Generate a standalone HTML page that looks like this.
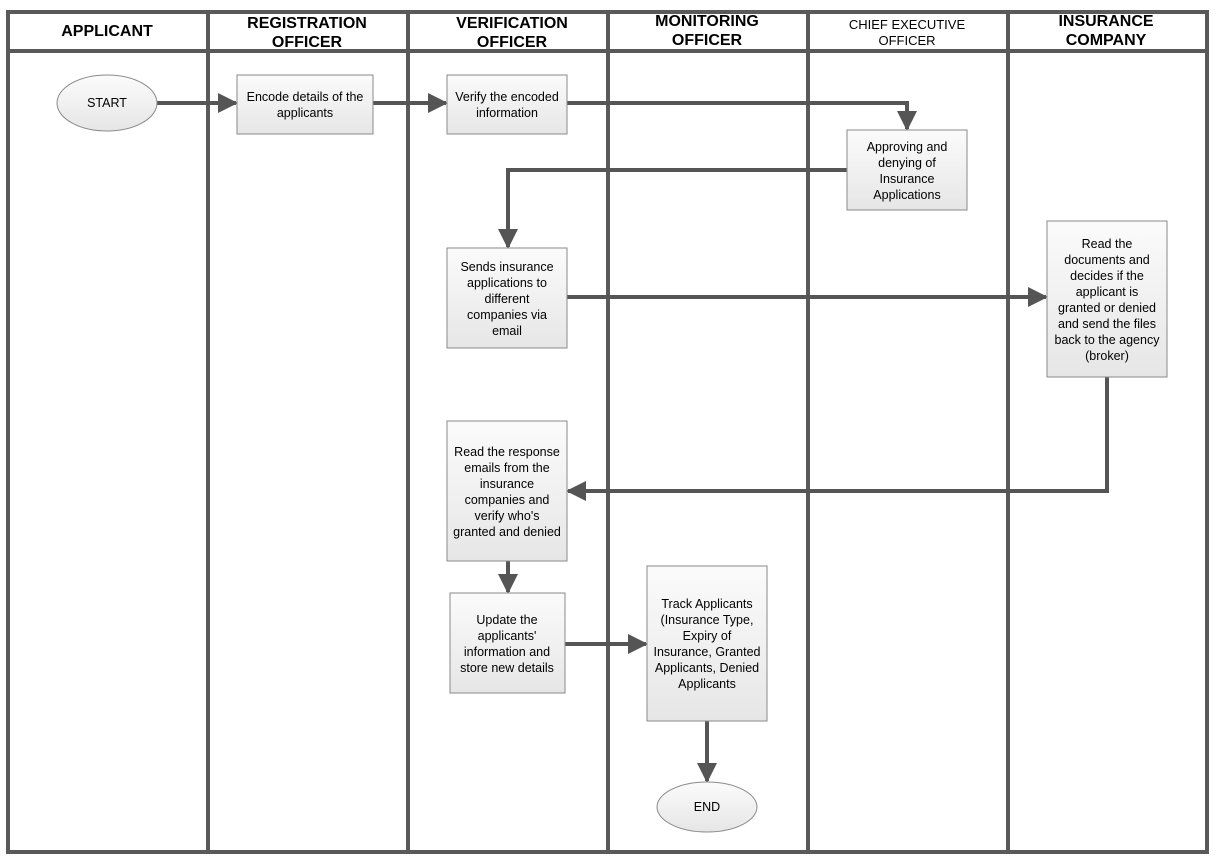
<!DOCTYPE html>
<html><head><meta charset="utf-8"><style>
html,body{margin:0;padding:0;background:#fff;}
svg{display:block;font-family:"Liberation Sans",Arial,sans-serif;}
</style></head><body>
<svg width="1221" height="865" viewBox="0 0 1221 865" xmlns="http://www.w3.org/2000/svg">
<defs>
<linearGradient id="g" x1="0" y1="0" x2="0" y2="1"><stop offset="0" stop-color="#fbfbfb"/><stop offset="1" stop-color="#e6e6e6"/></linearGradient>
<marker id="a" markerWidth="5" markerHeight="5" refX="4.5" refY="2.5" orient="auto" markerUnits="strokeWidth"><path d="M0,0 L5,2.5 L0,5 z" fill="#555"/></marker>
</defs>
<rect width="1221" height="865" fill="#fff"/>
<g stroke="#595959" stroke-width="4" fill="none">
<rect x="8" y="12" width="1199" height="840"/>
<line x1="8" y1="51" x2="1207" y2="51"/>
<line x1="208" y1="12" x2="208" y2="852"/>
<line x1="408" y1="12" x2="408" y2="852"/>
<line x1="608" y1="12" x2="608" y2="852"/>
<line x1="808" y1="12" x2="808" y2="852"/>
<line x1="1008" y1="12" x2="1008" y2="852"/>
</g>
<g font-weight="bold" font-size="16" text-anchor="middle" fill="#000">
<text x="107" y="36">APPLICANT</text>
<text x="307" y="28">REGISTRATION</text><text x="307" y="47">OFFICER</text>
<text x="512" y="28">VERIFICATION</text><text x="512" y="47">OFFICER</text>
<text x="707" y="26">MONITORING</text><text x="707" y="45">OFFICER</text>
<text x="1106" y="26">INSURANCE</text><text x="1106" y="45">COMPANY</text>
</g>
<g font-size="13" text-anchor="middle" fill="#000"><text x="907" y="29">CHIEF EXECUTIVE</text><text x="907" y="45">OFFICER</text></g>
<g stroke="#555" stroke-width="4" fill="none" marker-end="url(#a)">
<path d="M157,103 H236"/>
<path d="M373,103 H446"/>
<path d="M567,103 H907 V129"/>
<path d="M847,170 H508 V247"/>
<path d="M567,297 H1046"/>
<path d="M1107,377 V491 H568"/>
<path d="M508,561 V592"/>
<path d="M565,644 H646"/>
<path d="M707,721 V781"/>
</g>
<g fill="url(#g)" stroke="#8a8a8a" stroke-width="1">
<ellipse cx="107" cy="103" rx="50" ry="28"/>
<rect x="237" y="75" width="136" height="59"/>
<rect x="447" y="75" width="120" height="59"/>
<rect x="847" y="130" width="120" height="80"/>
<rect x="447" y="248" width="120" height="100"/>
<rect x="1047" y="221" width="120" height="156"/>
<rect x="447" y="421" width="120" height="140"/>
<rect x="450" y="593" width="115" height="100"/>
<rect x="647" y="566" width="120" height="155"/>
<ellipse cx="707" cy="807" rx="50" ry="25"/>
</g>
<g font-size="12.5" text-anchor="middle" fill="#000">
<text x="107" y="107">START</text>
<text x="305" y="101">Encode details of the</text><text x="305" y="117">applicants</text>
<text x="507" y="101">Verify the encoded</text><text x="507" y="117">information</text>
<text x="907" y="151">Approving and</text><text x="907" y="167">denying of</text><text x="907" y="183">Insurance</text><text x="907" y="199">Applications</text>
<text x="507" y="271">Sends insurance</text><text x="507" y="287">applications to</text><text x="507" y="303">different</text><text x="507" y="319">companies via</text><text x="507" y="335">email</text>
<text x="1107" y="248">Read the</text><text x="1107" y="264">documents and</text><text x="1107" y="280">decides if the</text><text x="1107" y="296">applicant is</text><text x="1107" y="312">granted or denied</text><text x="1107" y="328">and send the files</text><text x="1107" y="344">back to the agency</text><text x="1107" y="360">(broker)</text>
<text x="507" y="456">Read the response</text><text x="507" y="472">emails from the</text><text x="507" y="488">insurance</text><text x="507" y="504">companies and</text><text x="507" y="520">verify who's</text><text x="507" y="536">granted and denied</text>
<text x="507" y="624">Update the</text><text x="507" y="640">applicants'</text><text x="507" y="656">information and</text><text x="507" y="672">store new details</text>
<text x="707" y="608">Track Applicants</text><text x="707" y="624">(Insurance Type,</text><text x="707" y="640">Expiry of</text><text x="707" y="656">Insurance, Granted</text><text x="707" y="672">Applicants, Denied</text><text x="707" y="688">Applicants</text>
<text x="707" y="811">END</text>
</g>
</svg>
</body></html>
